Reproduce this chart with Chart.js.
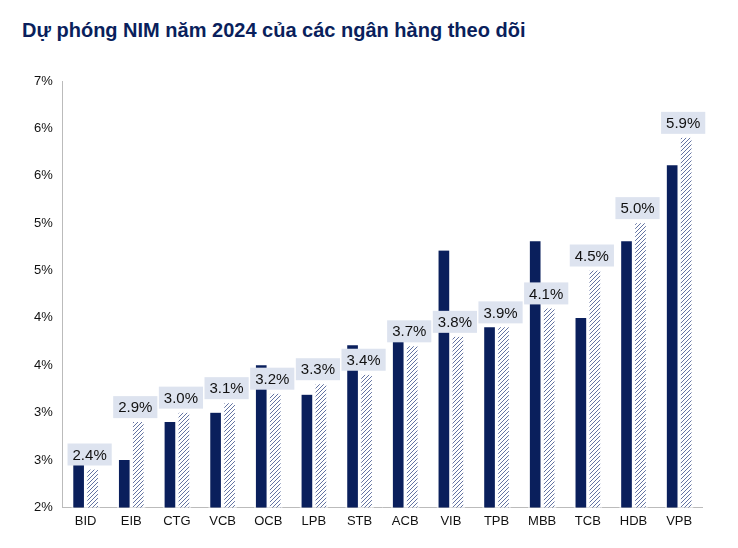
<!DOCTYPE html>
<html>
<head>
<meta charset="utf-8">
<script src="https://cdn.jsdelivr.net/npm/chart.js@4"></script>
<style>
body { margin: 0; background: #fff; font-family: "Liberation Sans", Arial, sans-serif; }
#title { position: absolute; left: 22px; top: 19px; font-size: 20px; font-weight: bold; color: #0a1f5c; }
#wrap { position: absolute; left: 0; top: 60px; width: 738px; height: 488px; }
</style>
</head>
<body>
<div id="title">Dự phóng NIM năm 2024 của các ngân hàng theo dõi</div>
<div id="wrap"><canvas id="nimChart"></canvas></div>
<script>
const banks = ['BID', 'EIB', 'CTG', 'VCB', 'OCB', 'LPB', 'STB', 'ACB', 'VIB', 'TPB', 'MBB', 'TCB', 'HDB', 'VPB'];
const nim2023 = [2.48, 2.5, 2.9, 3.0, 3.5, 3.19, 3.71, 3.75, 4.71, 3.9, 4.81, 4.0, 4.81, 5.61];
const nim2024 = [2.4, 2.9, 3.0, 3.1, 3.2, 3.3, 3.4, 3.7, 3.8, 3.9, 4.1, 4.5, 5.0, 5.9];

const navy = '#0a1f5c';

// diagonal hatch for the forecast bars
function makeHatch() {
    const c = document.createElement('canvas');
    c.width = 4; c.height = 4;
    const g = c.getContext('2d');
    g.fillStyle = '#fff';
    g.fillRect(0, 0, 4, 4);
    g.strokeStyle = '#3b4f8a';
    g.lineWidth = 0.8;
    g.beginPath();
    g.moveTo(0, 4); g.lineTo(4, 0);
    g.moveTo(-1, 1); g.lineTo(1, -1);
    g.moveTo(3, 5); g.lineTo(5, 3);
    g.stroke();
    return g.createPattern(c, 'repeat');
}

const labelPlugin = {
    id: 'boxLabels',
    afterDatasetsDraw(chart) {
        const ctx = chart.ctx;
        const meta = chart.getDatasetMeta(1);
        ctx.save();
        ctx.font = '15px "Liberation Sans", Arial, sans-serif';
        ctx.textAlign = 'center';
        ctx.textBaseline = 'middle';
        meta.data.forEach((bar, i) => {
            const txt = nim2024[i].toFixed(1) + '%';
            const w = ctx.measureText(txt).width + 10;
            const cx = bar.x - 3, cy = bar.y - 15;
            ctx.fillStyle = '#dde3ef';
            ctx.fillRect(cx - w / 2, cy - 11, w, 22);
            ctx.fillStyle = '#111';
            ctx.fillText(txt, cx, cy + 1);
        });
        ctx.restore();
    }
};

new Chart(document.getElementById('nimChart'), {
    type: 'bar',
    data: {
        labels: banks,
        datasets: [
            { label: '2023', data: nim2023, backgroundColor: navy, barThickness: 14,
              borderColor: '#fff', borderWidth: { left: 2, right: 2 }, borderSkipped: false },
            { label: '2024F', data: nim2024, backgroundColor: makeHatch(), barThickness: 14,
              borderColor: '#fff', borderWidth: { left: 2, right: 2 }, borderSkipped: false }
        ]
    },
    options: {
        responsive: true,
        maintainAspectRatio: false,
        animation: false,
        layout: { padding: { left: 24, right: 36, top: 21, bottom: 13 } },
        scales: {
            y: {
                min: 2, max: 6.5,
                ticks: {
                    stepSize: 0.5,
                    color: '#111',
                    font: { size: 13 },
                    padding: 10,
                    callback: v => Math.round(v) + '%'
                },
                grid: { display: false, drawTicks: false },
                border: { color: '#bbb' }
            },
            x: {
                ticks: { color: '#111', font: { size: 13 }, padding: 6 },
                grid: { display: false, drawTicks: false },
                border: { color: '#bbb' }
            }
        },
        plugins: { legend: { display: false }, tooltip: { enabled: false } }
    },
    plugins: [labelPlugin]
});
</script>
</body>
</html>
